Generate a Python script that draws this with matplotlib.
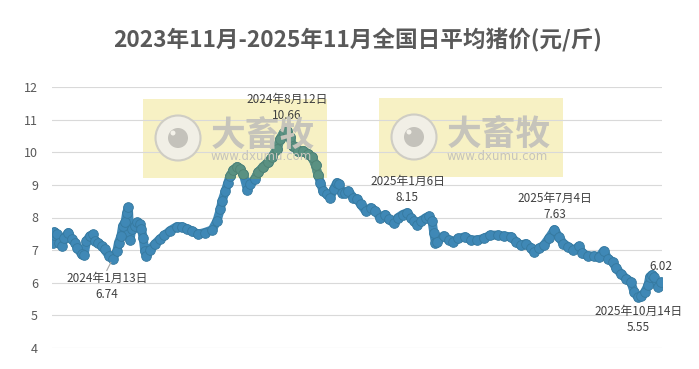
import pandas as pd
import matplotlib
matplotlib.use('Agg')
import matplotlib.pyplot as plt
from matplotlib.patches import Rectangle, Ellipse

plt.rcParams['font.family'] = ['Noto Sans CJK SC', 'DejaVu Sans']

title = '2023年11月-2025年11月全国日平均猪价(元/斤)'

# 读图得到的日期和价格 (元/斤)
dates = [
    '2023-11-01', '2023-11-02', '2023-11-03', '2023-11-06', '2023-11-09', '2023-11-12',
    '2023-11-15', '2023-11-20', '2023-11-24', '2023-11-28', '2023-12-01', '2023-12-06',
    '2023-12-09', '2023-12-12', '2023-12-16', '2023-12-20', '2023-12-22', '2023-12-26',
    '2023-12-31', '2024-01-03', '2024-01-09', '2024-01-13', '2024-01-18', '2024-01-20',
    '2024-01-23', '2024-01-25', '2024-01-28', '2024-01-30', '2024-02-01', '2024-02-03',
    '2024-02-05', '2024-02-09', '2024-02-12', '2024-02-15', '2024-02-17', '2024-02-19',
    '2024-02-21', '2024-02-23', '2024-02-27', '2024-03-04', '2024-03-10', '2024-03-16',
    '2024-03-23', '2024-03-31', '2024-04-06', '2024-04-12', '2024-04-18', '2024-04-26',
    '2024-05-04', '2024-05-13', '2024-05-19', '2024-05-23', '2024-05-25', '2024-05-29',
    '2024-06-01', '2024-06-04', '2024-06-08', '2024-06-12', '2024-06-16', '2024-06-20',
    '2024-06-25', '2024-06-28', '2024-07-04', '2024-07-08', '2024-07-14', '2024-07-20',
    '2024-07-25', '2024-07-31', '2024-08-04', '2024-08-08', '2024-08-12', '2024-08-16',
    '2024-08-19', '2024-08-22', '2024-08-26', '2024-09-01', '2024-09-07', '2024-09-12',
    '2024-09-16', '2024-09-19', '2024-09-22', '2024-09-25', '2024-09-30', '2024-10-04',
    '2024-10-08', '2024-10-12', '2024-10-15', '2024-10-18', '2024-10-22', '2024-10-26',
    '2024-11-01', '2024-11-06', '2024-11-10', '2024-11-16', '2024-11-22', '2024-11-28',
    '2024-12-04', '2024-12-10', '2024-12-14', '2024-12-20', '2024-12-25', '2024-12-31',
    '2025-01-06', '2025-01-10', '2025-01-14', '2025-01-18', '2025-01-22', '2025-01-28',
    '2025-02-01', '2025-02-05', '2025-02-07', '2025-02-09', '2025-02-11', '2025-02-19',
    '2025-02-25', '2025-03-03', '2025-03-09', '2025-03-17', '2025-03-24', '2025-04-01',
    '2025-04-09', '2025-04-17', '2025-04-26', '2025-05-03', '2025-05-12', '2025-05-18',
    '2025-05-24', '2025-05-30', '2025-06-05', '2025-06-09', '2025-06-15', '2025-06-21',
    '2025-06-27', '2025-07-04', '2025-07-09', '2025-07-15', '2025-07-21', '2025-07-27',
    '2025-08-03', '2025-08-07', '2025-08-14', '2025-08-21', '2025-08-27', '2025-09-02',
    '2025-09-07', '2025-09-13', '2025-09-17', '2025-09-23', '2025-09-29', '2025-10-05',
    '2025-10-09', '2025-10-14', '2025-10-18', '2025-10-22', '2025-10-26', '2025-10-28',
    '2025-10-31', '2025-11-02', '2025-11-07', '2025-11-11',
]
prices = [
    7.22, 7.45, 7.56, 7.48, 7.23, 7.12,
    7.38, 7.54, 7.33, 7.23, 7.07, 6.87,
    6.85, 7.28, 7.43, 7.48, 7.28, 7.23,
    7.12, 7.02, 6.81, 6.74, 6.97, 7.23,
    7.43, 7.74, 7.85, 8.15, 8.31, 7.30,
    7.64, 7.74, 7.85, 7.79, 7.64, 7.38,
    6.97, 6.82, 7.00, 7.18, 7.33, 7.45,
    7.60, 7.72, 7.72, 7.66, 7.59, 7.49,
    7.54, 7.62, 7.90, 8.25, 8.50, 8.80,
    9.05, 9.28, 9.45, 9.55, 9.49, 9.33,
    8.85, 9.03, 9.18, 9.38, 9.55, 9.69,
    9.85, 10.10, 10.41, 10.60, 10.66, 10.46,
    10.20, 10.15, 10.05, 10.05, 9.95, 9.85,
    9.60, 9.30, 9.07, 8.81, 8.71, 8.61,
    8.87, 9.07, 9.02, 8.76, 8.76, 8.81,
    8.61, 8.56, 8.40, 8.20, 8.30, 8.20,
    7.99, 8.09, 7.94, 7.84, 7.99, 8.09,
    8.15, 7.99, 7.89, 7.78, 7.89, 7.99,
    8.04, 7.89, 7.53, 7.22, 7.26, 7.44,
    7.31, 7.26, 7.36, 7.41, 7.31, 7.31,
    7.36, 7.46, 7.46, 7.43, 7.41, 7.26,
    7.15, 7.20, 7.08, 6.95, 7.05, 7.15,
    7.36, 7.63, 7.41, 7.20, 7.10, 7.00,
    7.12, 6.90, 6.82, 6.82, 6.78, 6.98,
    6.74, 6.64, 6.44, 6.28, 6.13, 6.03,
    5.72, 5.55, 5.58, 5.72, 5.92, 6.18,
    6.25, 6.18, 5.87, 6.02,
]

# 标注点: 日期, 显示日期, 价格
label_dates = ['2024-01-13', '2024-08-12', '2025-01-06', '2025-07-04', '2025-10-14', '2025-11-11']
label_texts = ['2024年1月13日', '2024年8月12日', '2025年1月6日', '2025年7月4日', '2025年10月14日', '']
label_values = [6.74, 10.66, 8.15, 7.63, 5.55, 6.02]

yticks = [4, 5, 6, 7, 8, 9, 10, 11, 12]

df = pd.DataFrame({'date': pd.to_datetime(dates), 'price': prices})

W, H = 699, 369
fig = plt.figure(figsize=(W / 100, H / 100), dpi=100)


def fx(x):
    return x / W


def fy(y):
    return 1 - y / H


ax = fig.add_axes([fx(52), fy(348), fx(610), 261 / H])

blue = '#3f88b6'
green = '#5a9182'

ax.set_ylim(4, 12)
ax.set_xlim(df['date'].iloc[0] - pd.Timedelta(days=1), df['date'].iloc[-1] + pd.Timedelta(days=1))
ax.set_yticks(yticks)
ax.set_yticklabels([str(t) for t in yticks])
ax.tick_params(axis='y', length=0, pad=10, labelsize=9, labelcolor='#595959')
ax.tick_params(axis='x', length=0, labelbottom=False)
ax.grid(axis='y', color='#d9d9d9', linewidth=0.8, zorder=0)
ax.set_axisbelow(True)
for s in ax.spines.values():
    s.set_visible(False)

# 水印 (黄色底框 + logo + 文字)
boxes = [(143, 99), (379, 98)]
clip_rects = []
for bx, by in boxes:
    r = Rectangle((fx(bx), fy(by + 79)), fx(184), 79 / H, transform=fig.transFigure,
                  facecolor='#f7f1c4', edgecolor='none', zorder=0.5)
    r.set_clip_on(False)
    ax.add_artist(r)
    cx, cy = bx + 35, by + 39
    ring = Ellipse((fx(cx), fy(cy)), 45 / W, 45 / H, transform=fig.transFigure,
                   facecolor='#f1efe6', edgecolor='#cfcdc4', linewidth=1.5, zorder=0.6)
    dot = Ellipse((fx(cx), fy(cy)), 20 / W, 20 / H, transform=fig.transFigure,
                  facecolor='#c4c2bb', edgecolor='none', zorder=0.7)
    hl = Ellipse((fx(cx - 5), fy(cy - 5)), 5 / W, 5 / H, transform=fig.transFigure,
                 facecolor='#f4f2ea', edgecolor='none', zorder=0.8)
    for p in (ring, dot, hl):
        p.set_clip_on(False)
        ax.add_artist(p)
    fig.text(fx(bx + 120), fy(by + 36), '大畜牧', fontsize=25, fontweight='bold',
             color='#c6c4bb', ha='center', va='center', zorder=0.6)
    fig.text(fx(bx + 118), fy(by + 58), 'www.dxumu.com', fontsize=8.5,
             family='DejaVu Sans', color='#c6c4bb', ha='center', va='center', zorder=0.6)
    clip_rects.append(Rectangle((fx(bx), fy(by + 79)), fx(184), 79 / H,
                                transform=fig.transFigure, facecolor='none', edgecolor='none'))

ax.plot(df['date'], df['price'], color=blue, linewidth=6.5, marker='o', markersize=7,
        markerfacecolor=blue, markeredgecolor='#36799f', markeredgewidth=0.6,
        solid_joinstyle='round', solid_capstyle='round', zorder=3)

# 水印框内的曲线颜色偏绿
for cr in clip_rects:
    fig.add_artist(cr)
    ln, = ax.plot(df['date'], df['price'], color=green, linewidth=6.5, marker='o', markersize=7,
                  markerfacecolor=green, markeredgecolor='#4f8274', markeredgewidth=0.6,
                  solid_joinstyle='round', solid_capstyle='round', zorder=3.5)
    ln.set_clip_path(cr)

# 数据标注
offsets = [(-6, -28), (0, 23), (0, 23), (0, 23), (0, -22), (0, 16)]
for d, t, v, off in zip(label_dates, label_texts, label_values, offsets):
    txt = f'{t}\n{v:.2f}' if t else f'{v:.2f}'
    ax.annotate(txt, xy=(pd.Timestamp(d), v), xytext=off, textcoords='offset pixels',
                ha='center', va='center', fontsize=8.5, color='#404040', linespacing=1.35,
                zorder=5)

# 2024年1月13日 的引线
ax.annotate('', xy=(pd.Timestamp(label_dates[0]), label_values[0]), xytext=(-6, -12),
            textcoords='offset pixels',
            arrowprops=dict(arrowstyle='-', color='#a6a6a6', linewidth=0.8, shrinkA=0, shrinkB=3))

fig.text(fx(358), fy(40), title, fontsize=16.3, fontweight='bold', color='#595959',
         ha='center', va='center')

fig.savefig('out.png', dpi=100)
